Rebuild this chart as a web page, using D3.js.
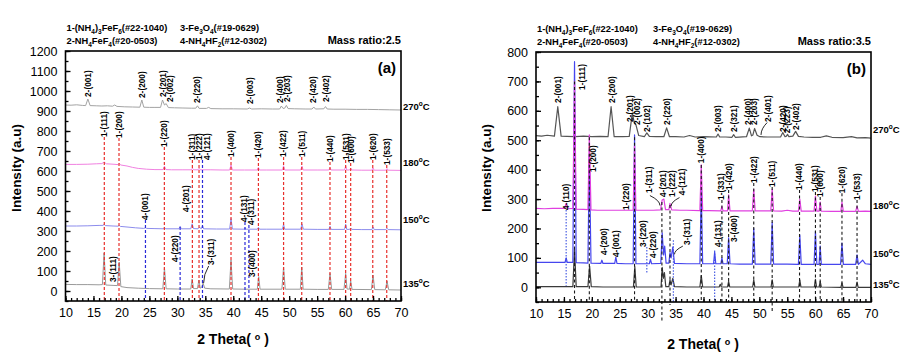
<!DOCTYPE html>
<html><head><meta charset="utf-8">
<script src="https://cdn.jsdelivr.net/npm/d3@7"></script>
<style>body{margin:0;background:#fff}svg{display:block}text{font-family:"Liberation Sans",Arial,sans-serif}</style>
</head><body><svg id="c" width="921" height="356"></svg>
<script>
// ---------- shared ticks ----------
const xTicks=[10,15,20,25,30,35,40,45,50,55,60,65,70];
const xMinorTicks=d3.range(10,71,1);
const aYTicks=[0,100,200,300,400,500,600,700,800,900,1000,1100,1200];
const bYTicks=[0,100,200,300,400,500,600,700,800];
const legendA=["1-(NH_4)_3FeF_6(#22-1040)","2-NH_4FeF_4(#20-0503)","3-Fe_3O_4(#19-0629)","4-NH_4HF_2(#12-0302)"];
const tempNames=["270^oC","180^oC","150^oC","135^oC"];

// ---------- panel (a) traces: flat [2θ, intensity, ...] ----------
const a270=[10,930,11,929,12,931,13,928,13.6,927,14.0,960,14.4,927,15.5,926,16.5,925,17.5,926,18.4,924,18.8,930,19.2,923,20.5,921,22,920,23.3,919,23.65,955,24.0,919,25,918,26,918,27.0,918,27.35,955,27.7,930,28.0,937,28.4,917,29.5,916,31,915,32.5,914,33.3,914,33.6,926,33.9,913,35.2,913,35.6,918,36,912,38,911,40,911,42.5,910,42.9,915,43.3,910,45,911,47,910,48.3,910,48.6,925,48.9,913,49.2,914,49.5,928,49.8,912,51,911,53,910,54.1,910,54.4,920,54.7,910,56.2,911,56.5,922,56.8,910,58,909,60,909,62,908,64,908,66,907,68,906,70,905];
const a180=[10,633,12,633,14,634,15.5,636,16.5,637,16.9,645,17.3,636,18.5,634,19.4,632,19.6,638,19.9,630,21,625,22,618,23,613,24.5,609,26,607,27.45,607,27.7,624,27.95,607,29,606,31,606,32.5,606,32.7,614,32.9,606,33.7,606,33.9,614,34.1,606,36,606,38,605,39.35,605,39.6,630,39.85,605,42,605,44.3,605,44.5,618,44.7,605,46,605,48.8,605,49.0,626,49.2,605,52.05,605,52.3,624,52.5,605,55,605,57.1,605,57.3,616,57.5,605,59.9,605,60.1,625,60.3,605,60.8,605,61.0,613,61.2,605,63,604,64.8,604,65.0,615,65.2,604,67.3,604,67.5,612,67.7,604,70,603];
const a150=[10,325,12,325,14,326,16,328,16.7,328,16.9,333,17.1,327,18.5,325,19.4,324,19.6,328,19.8,323,21,320,22.5,316,24,313,24.3,316,24.5,313,26,312,27.5,311,27.7,318,27.9,311,30.3,311,30.5,324,30.7,311,32.4,311,32.65,336,32.9,312,33.7,311,33.9,318,34.3,312,34.5,328,34.7,311,37,310,39.35,310,39.6,362,39.85,310,41.9,309,42.1,316,42.3,309,44.3,309,44.5,318,44.7,309,46,309,48.8,309,49.0,334,49.2,309,52.05,309,52.3,334,52.55,309,55,308,57.1,308,57.3,324,57.5,308,59.9,308,60.1,334,60.3,308,60.8,308,61.0,315,61.2,308,63,307,64.8,307,65.0,320,65.2,307,67.3,307,67.5,314,67.7,307,70,306];
const a135=[10,33,12,32,14,32,16,31,16.6,32,16.9,190,17.2,30,18.5,28,19.3,27,19.6,145,19.9,22,21,17,23,14,25,12,27.4,11,27.7,115,28.0,11,30,10,32.4,10,32.65,60,32.9,12,33.6,12,33.85,55,34.1,14,34.4,20,34.6,40,34.9,14,36,11,39.3,10,39.6,155,39.9,10,42,9,44.3,9,44.55,72,44.8,9,48.7,9,49.0,120,49.3,9,52.0,9,52.25,120,52.5,9,55,8,57.0,8,57.3,88,57.6,8,59.8,8,60.1,88,60.35,10,60.8,9,61.0,50,61.25,8,64.7,7,65.0,80,65.3,7,67.2,6,67.5,50,67.8,6,70,5];

// ---------- panel (b) traces ----------
const b270=[10,516,11,514,12,517,13.3,514,13.9,614,14.5,514,15.5,513,17,512,18.5,514,20,512,21.5,513,22.9,512,23.45,614,24.0,512,25.5,512,26.7,513,27.25,592,27.6,560,27.9,552,28.4,516,29.4,512,29.85,525,30.3,513,31.5,512,32.9,512,33.4,542,33.9,512,35,512,36.5,511,37.5,516,38.5,511,40,512,42.3,511,42.6,521,42.9,511,44,511,45.1,510,45.4,519,45.7,510,47.7,512,48.2,541,48.6,515,48.85,518,49.15,540,49.6,517,50.1,512,51.5,511,53.8,511,54.2,526,54.6,512,54.85,514,55.05,520,55.3,512,56.0,514,56.5,530,57.0,513,58,511,59.5,510,61,510,62,515,63,510,65,509,66.5,512,67.5,508,69,509,70,507];
const b180=[10,268,11.5,267,13,268,15.1,268,15.4,285,15.7,267,16.6,268,16.9,700,17.2,266,18.5,265,19.3,264,19.55,518,19.85,263,21,262,23,262,25,262,27.4,262,27.65,480,27.9,262,29.5,262,31.0,262,32.3,263,32.6,297,32.9,300,33.2,264,33.8,264,34.0,285,34.3,263,35.8,262,37,262,39.35,261,39.6,416,39.85,261,41,261,43.1,260,43.3,275,43.5,260,44.3,260,44.5,314,44.75,260,46,260,48.75,260,49.0,333,49.25,260,52.05,260,52.3,333,52.55,260,54,259,55,262,56,259,57.0,259,57.25,300,57.5,259,59.8,259,60.05,310,60.3,259,60.7,259,60.9,290,61.1,259,63,258,64.6,258,64.8,290,65.05,258,67.25,258,67.5,275,67.75,258,69,259,70,258];
const b150=[10,85,12,85,14,85,15.2,85,15.4,100,15.6,85,16.6,85,16.9,767,17.2,84,18.5,83,19.3,82,19.55,450,19.85,82,21.6,81,21.8,92,22.0,81,24.1,81,24.3,103,24.5,81,26,80,27.4,80,27.65,518,27.9,80,30.3,80,30.5,95,30.7,80,32.35,81,32.6,185,32.85,110,33.05,140,33.3,82,33.8,82,34.0,118,34.2,100,34.5,137,34.8,81,37,80,39.35,80,39.6,330,39.85,80,41.8,80,42.0,120,42.2,80,43.1,80,43.3,100,43.5,80,44.25,80,44.5,168,44.75,80,46.5,79,48.75,79,49.0,200,49.25,79,52.05,79,52.3,220,52.55,79,55,79,57.0,78,57.25,178,57.5,78,59.8,78,60.05,190,60.3,78,60.7,78,60.9,140,61.1,78,63,78,64.55,78,64.8,150,65.05,78,67.25,78,67.5,110,67.75,78,68.5,92,69,80,70,78];
const b135=[10,2,12,2,14,2,16.6,2,16.9,130,17.2,2,19.3,2,19.6,72,19.9,2,22,1,25,1,27.45,1,27.7,70,27.95,1,30,1,32.4,1,32.6,68,32.8,30,33.0,50,33.25,2,33.8,2,34.0,25,34.2,8,34.5,30,34.8,2,37,1,39.35,1,39.6,40,39.85,1,42.8,1,43.0,10,43.2,1,44.3,1,44.5,20,44.7,1,48.8,1,49.0,25,49.2,1,52.1,1,52.3,25,52.5,1,57.05,1,57.25,25,57.45,1,59.85,1,60.05,27,60.25,1,60.7,1,60.9,20,61.1,1,64.6,0,64.8,15,65.0,0,67.3,0,67.5,18,67.7,0,70,0];

// ---------- annotations: [text, 2θ, intensity at label start] ----------
const aPeakLabels=[["2-(001)",14.0,970],["2-(200)",23.65,965],["2-(201)",27.5,970],["2-(002)",28.7,945],["2-(220)",33.6,940],["2-(003)",43.0,935],["2-(400)",48.4,940],["2-(203)",49.6,945],["2-(420)",54.3,940],["2-(402)",56.6,945],
["1-(111)",16.94,770],["1-(200)",19.57,765],["1-(220)",27.68,720],["1-(311)",32.69,655],["1-(222)",33.88,655],["4-(121)",35.4,655],["1-(400)",39.6,670],["1-(420)",44.5,665],["1-(422)",49.0,670],["1-(511)",52.25,670],["1-(440)",57.3,645],["1-(531)",60.1,655],["1-(600)",61.0,640],["1-(620)",64.95,655],["1-(533)",67.45,630],
["4-(001)",24.3,355],["4-(201)",31.6,395],["4-(131)",42.0,345],["4-(311)",43.2,330],["4-(220)",29.6,145],["3-(311)",36.0,130],["3-(111)",18.55,45],["3-(400)",43.4,70]];
// [2θ, top, bottom]
const aRedLines=[[16.94,770,-50],[19.57,765,-50],[27.68,720,-50],[32.69,655,-50],[33.88,655,-50],[39.6,670,-50],[44.5,665,-50],[49.0,670,-50],[52.25,670,-50],[57.3,645,-50],[60.1,655,-50],[61.0,640,-50],[64.95,655,-50],[67.45,630,-50]];
const aBlueLines=[[24.3,355,-50],[30.5,320,-50],[34.5,655,-50],[42.1,345,-50],[42.8,330,-50]];
const aArrows=[[35.6,125,34.7,40]];

const bPeakLabels=[["2-(001)",13.9,627],["1-(111)",18.2,671],["2-(200)",23.6,627],["2-(201)",26.85,562],["2-(002)",28.05,552],["2-(102)",29.95,528],["2-(220)",33.4,552],["2-(003)",42.7,528],["2-(321)",45.4,528],["2-(400)",47.95,552],["2-(203)",49.1,552],["2-(401)",51.65,562],["2-(420)",54.2,528],["2-(223)",55.05,524],["2-(402)",56.5,535],
["1-(400)",39.6,422],["4-(110)",15.4,263],["1-(200)",20.3,392],["1-(220)",26.1,263],["1-(311)",30.26,321],["4-(201)",32.68,307],["1-(222)",34.38,307],["4-(121)",36.12,313],["1-(331)",43.2,297],["1-(420)",44.5,331],["1-(422)",49.0,355],["1-(511)",52.3,341],["1-(440)",57.2,331],["1-(531)",60.0,324],["1-(600)",60.9,307],["1-(620)",64.8,320],["1-(533)",67.5,297],
["4-(200)",22.2,110],["4-(001)",24.35,103],["3-(220)",29.2,137],["4-(220)",30.9,100],["3-(311)",37.0,144],["4-(131)",42.6,137],["3-(400)",45.55,154]];
const bBlackLines=[[16.9,700,-50],[19.55,510,-50],[27.65,510,-50],[32.55,290,-115],[34.0,280,-60],[39.6,416,-50],[43.3,297,-50],[44.5,331,-50],[49.0,355,-50],[52.3,341,-85],[57.2,331,-50],[60.05,324,-50],[60.9,307,-50],[64.8,320,-50],[67.5,297,-50]];
const bBlueLines=[[15.4,263,5],[29.85,137,50],[34.6,160,-50],[42.0,125,-50]];
const bArrows=[[51.4,560,50.3,518],[30.4,312,32.2,278],[35.7,305,34.2,276],[36.3,140,34.8,112]];

// ---------- helpers ----------
const svg=d3.select("#c");
const pts=a=>d3.range(0,a.length,2).map(i=>[a[i],a[i+1]]);
function rich(sel,str,small){
  let shift=0;
  for(let i=0;i<str.length;){
    const c=str[i];
    if(c==="_"||c==="^"){
      const s=c==="_"?2.5:-4;
      sel.append("tspan").attr("font-size",small).attr("dy",s-shift).text(str[i+1]);
      shift=s;i+=2;
    } else {
      let j=i;while(j<str.length&&str[j]!=="_"&&str[j]!=="^")j++;
      const t=sel.append("tspan").text(str.slice(i,j));
      if(shift){t.attr("dy",-shift);shift=0;}
      i=j;
    }
  }
}

function panel(cfg){
  const x=d3.scaleLinear().domain([10,70]).range(cfg.xr);
  const y=d3.scaleLinear().domain(cfg.yd).range(cfg.yr);
  const g=svg.append("g");
  const cid="clip"+cfg.id;
  svg.append("clipPath").attr("id",cid).append("rect")
    .attr("x",cfg.xr[0]).attr("y",cfg.yr[1]).attr("width",cfg.xr[1]-cfg.xr[0]).attr("height",cfg.yr[0]-cfg.yr[1]);
  const pg=g.append("g").attr("clip-path",`url(#${cid})`);
  const line=d3.line().x(d=>x(d[0])).y(d=>y(d[1]));
  cfg.traces.forEach(t=>pg.append("path").attr("d",line(pts(t.data))).attr("fill","none")
    .attr("stroke",t.color).attr("stroke-width",cfg.tw).attr("stroke-linejoin","round"));
  cfg.lineSets.forEach(s=>s.data.forEach(l=>g.append("line")
    .attr("x1",x(l[0])).attr("x2",x(l[0])).attr("y1",y(l[1])).attr("y2",y(l[2]))
    .attr("stroke",s.color).attr("stroke-width",s.w).attr("stroke-dasharray",s.dash)));
  cfg.arrows.forEach(a=>{
    const p=d3.path();p.moveTo(x(a[0]),y(a[1]));
    p.quadraticCurveTo(x(a[2]),y((a[1]+a[3])/2),x(a[2]),y(a[3]));
    g.append("path").attr("d",p.toString()).attr("fill","none").attr("stroke","#111").attr("stroke-width",0.9);
  });
  cfg.labels.forEach(l=>g.append("text").attr("transform",`translate(${x(l[1])},${y(l[2])}) rotate(-90)`)
    .attr("dy","0.35em").attr("font-size",8.3).attr("font-weight",600).attr("fill","#000").text(l[0]));
  // axes
  const xb=cfg.yr[0];
  const styleTicks=s=>{s.select(".domain").remove();s.selectAll("line").attr("stroke-width",1.3);
    s.selectAll("text").attr("font-size",12.5).attr("fill","#000").attr("font-family",null);};
  g.append("g").attr("transform",`translate(0,${xb})`)
    .call(d3.axisBottom(x).tickValues(xMinorTicks).tickSize(-3).tickSizeOuter(0).tickFormat(""))
    .call(styleTicks);
  g.append("g").attr("transform",`translate(0,${xb})`)
    .call(d3.axisBottom(x).tickValues(xTicks).tickSize(-5).tickSizeOuter(0).tickPadding(7).tickFormat(d3.format("d")))
    .call(styleTicks);
  const minorY=d3.range(cfg.yd[0],cfg.yd[1]+1,50);
  g.append("g").attr("transform",`translate(${cfg.xr[0]},0)`)
    .call(d3.axisLeft(y).tickValues(minorY).tickSize(-3).tickSizeOuter(0).tickFormat(""))
    .call(styleTicks);
  g.append("g").attr("transform",`translate(${cfg.xr[0]},0)`)
    .call(d3.axisLeft(y).tickValues(cfg.yTicks).tickSize(-5).tickSizeOuter(0).tickPadding(8).tickFormat(d3.format("d")))
    .call(styleTicks);
  g.append("rect").attr("x",cfg.xr[0]).attr("y",cfg.yr[1]).attr("width",cfg.xr[1]-cfg.xr[0]).attr("height",cfg.yr[0]-cfg.yr[1])
    .attr("fill","none").attr("stroke","#000").attr("stroke-width",1.6);
  // titles
  g.append("text").attr("transform",`translate(${cfg.yTitleX},${cfg.yTitleY}) rotate(-90)`).attr("text-anchor","middle")
    .attr("font-size",13.5).attr("font-weight","bold").text("Intensity (a.u)");
  const xt=g.append("text").attr("x",cfg.xTitleX).attr("y",cfg.xTitleY).attr("text-anchor","middle")
    .attr("font-size",14).attr("font-weight","bold");
  rich(xt,"2 Theta( ^o )",9);
  // legend
  const lg=[[cfg.xr[0]+1,cfg.legY[0]],[cfg.xr[0]+1,cfg.legY[1]],[cfg.leg2X,cfg.legY[0]],[cfg.leg2X,cfg.legY[1]]];
  legendA.forEach((t,i)=>rich(g.append("text").attr("x",lg[i][0]).attr("y",lg[i][1]).attr("font-size",9.3).attr("font-weight","bold"),t,6.5));
  g.append("text").attr("x",cfg.xr[1]).attr("y",cfg.legY[1]).attr("text-anchor","end").attr("font-size",11).attr("font-weight","bold").text(cfg.ratio);
  g.append("text").attr("x",cfg.xr[1]-5).attr("y",cfg.yr[1]+22).attr("text-anchor","end").attr("font-size",15).attr("font-weight","bold").text(cfg.tag);
  tempNames.forEach((t,i)=>rich(g.append("text").attr("x",cfg.xr[1]+2).attr("y",cfg.tempY[i]).attr("font-size",9.5).attr("font-weight","bold"),t,6.5));
}

panel({id:"A",tag:"(a)",xr:[65.5,401],yd:[-50,1200],yr:[301,51],yTicks:aYTicks,tw:1,
  traces:[{data:a270,color:"#a3a3a3"},{data:a180,color:"#f080e0"},{data:a150,color:"#8c8cec"},{data:a135,color:"#9a9a9a"}],
  lineSets:[{data:aRedLines,color:"#e8302c",w:1.2,dash:"3,2"},{data:aBlueLines,color:"#2a2ad8",w:1.2,dash:"3,2"}],
  arrows:aArrows,labels:aPeakLabels,yTitleX:21,yTitleY:168,xTitleX:233,xTitleY:344,
  legY:[31,44],leg2X:180,ratio:"Mass ratio:2.5",tempY:[110,166,223,287]});
panel({id:"B",tag:"(b)",xr:[536,871],yd:[-50,800],yr:[302,52],yTicks:bYTicks,tw:1.2,
  traces:[{data:b270,color:"#555555"},{data:b135,color:"#3a3a3a"},{data:b150,color:"#4646ee"},{data:b180,color:"#e040e0"}],
  lineSets:[{data:bBlackLines,color:"#1a1a1a",w:1.1,dash:"3,2.5"},{data:bBlueLines,color:"#3a50e0",w:1.1,dash:"1.5,1.5"}],
  arrows:bArrows,labels:bPeakLabels,yTitleX:491,yTitleY:168,xTitleX:703,xTitleY:349,
  legY:[32,45],leg2X:653,ratio:"Mass ratio:3.5",tempY:[133,209,257,288]});
</script></body></html>
